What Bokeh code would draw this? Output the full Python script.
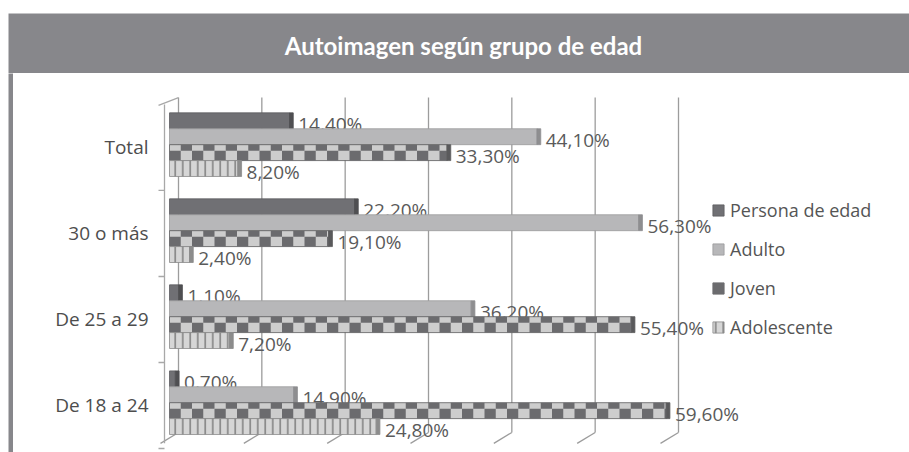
import numpy as np
from bokeh.plotting import figure
from bokeh.models import Range1d, Label, Legend, LegendItem, FixedTicker
from bokeh.layouts import column, row
from bokeh.embed import file_html
from bokeh.resources import INLINE
from bokeh.core.properties import value

# ---------------- data ----------------
title_text = "Autoimagen según grupo de edad"
categories = ["Total", "30 o más", "De 25 a 29", "De 18 a 24"]
series_names = ["Persona de edad", "Adulto", "Joven", "Adolescente"]
persona_de_edad = [14.4, 22.2, 1.1, 0.7]
adulto = [44.1, 56.3, 36.2, 14.9]
joven = [33.3, 19.1, 55.4, 59.6]
adolescente = [8.2, 2.4, 7.2, 24.8]
grid_ticks = [0, 10, 20, 30, 40, 50, 60]

# ---------------- style ----------------
GRAY = "#87878b"
FONT = "Open Sans"
offsets = [0.31, 0.125, -0.06, -0.245]
bar_h = 0.185
cap_w = 0.45
back_dx, back_top, back_bot = 1.08, 3.58, -0.314
front_dx, front_bot = -1.08, -0.44
wall_x, tick_x = -0.6, -1.32
sq = 1.35

cat_pos = [len(categories) - 1 - i for i in range(len(categories))]


def fmt(v):
    return f"{v:.2f}".replace(".", ",") + "%"


# ---------------- header ----------------
header = figure(width=909, height=73, x_range=Range1d(0, 1), y_range=Range1d(0, 1),
                output_backend="svg", toolbar_location=None,
                x_axis_location=None, y_axis_location=None,
                min_border_top=13, min_border_left=8, min_border_right=0, min_border_bottom=0,
                background_fill_color=GRAY, border_fill_color="white", outline_line_color=None)
header.grid.visible = False
header.add_layout(Label(x=0.505, y=0.5, text=title_text, text_align="center",
                        text_baseline="middle", text_color="white", text_font="Lato",
                        text_font_size="24px", text_font_style="bold", y_offset=-2))

# ---------------- left strip ----------------
strip = figure(width=13, height=379, x_range=Range1d(0, 1), y_range=Range1d(0, 1),
               output_backend="svg", toolbar_location=None,
               x_axis_location=None, y_axis_location=None,
               min_border_left=8, min_border_right=0, min_border_top=0, min_border_bottom=0,
               background_fill_color=GRAY, border_fill_color="white", outline_line_color=None)
strip.grid.visible = False

# ---------------- main chart ----------------
p = figure(width=896, height=379, x_range=Range1d(-2.28, 88.8), y_range=Range1d(-0.5465, 3.86),
           output_backend="svg", toolbar_location=None,
           x_axis_location=None, y_axis_location="left",
           min_border_left=137, min_border_right=0, min_border_top=0, min_border_bottom=0,
           outline_line_color=None, background_fill_color="white", border_fill_color="white")
p.grid.visible = False

ax = p.yaxis[0]
ax.ticker = FixedTicker(ticks=cat_pos)
ax.major_label_overrides = {pos: cat for pos, cat in zip(cat_pos, categories)}
ax.axis_line_color = None
ax.major_tick_line_color = None
ax.minor_tick_line_color = None
ax.major_tick_out = 0
ax.major_tick_in = 0
ax.major_label_standoff = 2
ax.major_label_text_font = FONT
ax.major_label_text_font_size = "19px"
ax.major_label_text_color = "#4d4d4d"

# 3D walls
n = len(grid_ticks)
gx = [t + back_dx for t in grid_ticks]
fx = [t + front_dx for t in grid_ticks]
p.segment(x0=gx, y0=[back_bot] * n, x1=gx, y1=[back_top] * n, line_color="#9c9c9c", line_width=1.3)
p.segment(x0=gx, y0=[back_bot] * n, x1=fx, y1=[front_bot] * n, line_color="#9c9c9c", line_width=1.3)
bounds = [pos - 0.5 for pos in cat_pos]
p.segment(x0=[wall_x], y0=[front_bot], x1=[wall_x], y1=[max(cat_pos) + 0.5], line_color="#a8a8a8", line_width=1.3)
p.segment(x0=[tick_x] * len(bounds), y0=bounds, x1=[wall_x] * len(bounds), y1=bounds,
          line_color="#a8a8a8", line_width=1.3)
p.segment(x0=[tick_x], y0=[max(cat_pos) + 0.49], x1=[grid_ticks[0] + back_dx], y1=[back_top],
          line_color="#a8a8a8", line_width=1.3)

styles = [
    dict(fill_color="#707074", line_color="#5c5c5f", cap="#4f4f52"),
    dict(fill_color="#b7b7b9", line_color="#9a9a9c", cap="#8e8e90"),
    dict(fill_color="#cdcdcd", line_color="#5a5a5c", cap="#5a5a5c"),
    dict(fill_color="#d6d6d6", line_color="#8a8a8a", cap="#8c8c8c",
         hatch_pattern="vertical_line", hatch_color="#7e7e7e", hatch_scale=7.5, hatch_weight=1.5),
]
all_values = [persona_de_edad, adulto, joven, adolescente]
legend_items = []
for k, (name, vals, st) in enumerate(zip(series_names, all_values, styles)):
    ys = [pos + offsets[k] for pos in cat_pos]
    st = dict(st)
    cap = st.pop("cap")
    r = p.hbar(y=ys, left=0, right=vals, height=bar_h, line_width=0.8, **st)
    rends = [r]
    if name == "Joven":
        jl, jr, jb, jt = [], [], [], []
        for yc, v in zip(ys, vals):
            y0, y1 = yc - bar_h / 2, yc + bar_h / 2
            ym = y0 + 0.62 * bar_h
            for s in np.arange(0, v, 2 * sq):
                jl.append(s); jr.append(min(s + sq, v)); jb.append(y0); jt.append(ym)
            for s in np.arange(sq, v, 2 * sq):
                jl.append(s); jr.append(min(s + sq, v)); jb.append(ym); jt.append(y1)
        rq = p.quad(left=jl, right=jr, bottom=jb, top=jt, fill_color="#6b6b6e", line_color=None)
        rends.append(rq)
    p.hbar(y=ys, left=vals, right=[v + cap_w for v in vals], height=bar_h,
           fill_color=cap, line_color=cap, line_width=0.8)
    p.text(x=[v + cap_w for v in vals], y=ys, text=[fmt(v) for v in vals],
           x_offset=5, y_offset=3, text_baseline="middle", text_align="left",
           text_font=value(FONT), text_font_size="19px", text_color="#5a5a5a")
    legend_items.append(LegendItem(label=name, renderers=rends))

legend = Legend(items=legend_items, location=(561, 113), padding=0, margin=0,
                spacing=15, label_height=22, glyph_height=14, glyph_width=14,
                label_standoff=5, border_line_color=None, background_fill_alpha=0,
                label_text_font=FONT, label_text_font_size="18px", label_text_color="#555555")
p.add_layout(legend)

layout = column(header, row(strip, p))
open("out.html", "w").write(file_html(layout, INLINE))
